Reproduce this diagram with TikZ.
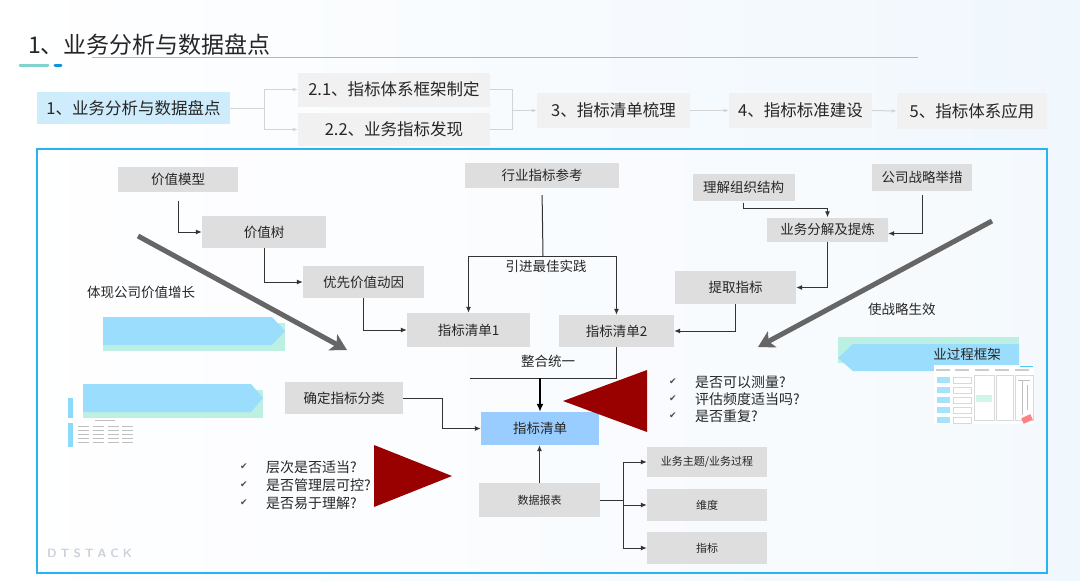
\documentclass[tikz,border=0pt]{standalone}
\usepackage{fontspec}
\setmainfont{Noto Sans CJK SC}
\newfontfamily\cjk{Noto Sans CJK SC}
\newfontfamily\dejavu{DejaVu Sans}
\usetikzlibrary{arrows.meta,calc}
\definecolor{gboxc}{RGB}{222,222,222}
\definecolor{topgray}{RGB}{241,241,241}
\definecolor{topblue}{RGB}{206,236,252}
\definecolor{listblue}{RGB}{153,204,255}
\definecolor{pentblue}{RGB}{155,221,252}
\definecolor{pentteal}{RGB}{188,240,226}
\definecolor{darkred}{RGB}{153,0,0}
\definecolor{framec}{RGB}{40,180,240}
\definecolor{titleline}{RGB}{120,200,245}
\definecolor{txt}{RGB}{38,38,38}
\definecolor{arrowgray}{RGB}{102,102,102}
\definecolor{lightconn}{RGB}{212,212,212}
\definecolor{bgtint}{RGB}{240,247,253}
\definecolor{wm}{RGB}{205,210,218}
\tikzset{
  gbox/.style={fill=gboxc, inner sep=0pt, font=\fontsize{13.5}{15}\selectfont, text=txt},
  sbox/.style={fill=gboxc, inner sep=0pt, font=\fontsize{11}{13}\selectfont, text=txt},
  topbox/.style={fill=topgray, inner sep=0pt, font=\fontsize{16.5}{18}\selectfont, text=txt},
  conn/.style={draw=black!80, line width=1pt, -{Latex[length=6pt,width=5pt]}},
  plainline/.style={draw=black!80, line width=1pt},
  bigarrow/.style={draw=arrowgray, line width=5pt, -{Stealth[length=16pt,width=18pt,inset=4pt]}},
  topconn/.style={draw=lightconn, line width=1pt, -{Latex[length=5pt,width=4pt]}},
  toplink/.style={draw=lightconn, line width=1pt},
  lbl/.style={inner sep=0pt, font=\fontsize{13.5}{15}\selectfont, text=txt},
  chk/.style={inner sep=0pt, font=\fontsize{14}{16}\selectfont, text=txt, anchor=west},
  tick/.style={inner sep=0pt, font=\dejavu\fontsize{9}{10}\selectfont, text=black!70},
}
\begin{document}
\begin{tikzpicture}[x=1pt,y=-1pt]
\useasboundingbox (0,0) rectangle (1080,581);
\fill[white] (0,0) rectangle (1080,581);
\shade[left color=white, right color=bgtint] (0,0) rectangle (1080,581);

% title
\node[inner sep=0pt, anchor=west, font=\fontsize{23}{25}\selectfont, text=txt] (title) at (28,45) {1、业务分析与数据盘点};
\draw[titleline, line width=1.2pt] (92,57.5) -- (918,57.5);
\draw[cyan!60!green!50, line width=3pt, line cap=round] (20,65) -- (48,65);
\draw[cyan!80!blue, line width=3pt, line cap=round] (55,65) -- (61,65);

% top row
\node[topbox, fill=topblue, minimum width=193pt, minimum height=32pt] (t1) at (133.5,108) {1、业务分析与数据盘点};
\node[topbox, minimum width=192pt, minimum height=34pt] (t21) at (394,89.5) {2.1、指标体系框架制定};
\node[topbox, minimum width=192pt, minimum height=33pt] (t22) at (394,129.5) {2.2、业务指标发现};
\node[topbox, minimum width=153pt, minimum height=35pt] (t3) at (613.5,110.5) {3、指标清单梳理};
\node[topbox, minimum width=143pt, minimum height=35pt] (t4) at (800.5,110.5) {4、指标标准建设};
\node[topbox, minimum width=150pt, minimum height=36pt] (t5) at (972,111) {5、指标体系应用};
\draw[topconn] (t1.east) -- ++(34,0) |- (t21.west);
\draw[topconn] (t1.east) -- ++(34,0) |- (t22.west);
\draw[toplink] (t21.east) -- ++(22,0) |- (t22.east);
\draw[topconn] ($(t21.east)+(22,21)$) -- (t3.west);
\draw[topconn] (t3.east) -- (t4.west);
\draw[topconn] (t4.east) -- (t5.west);

% frame
\fill[white, opacity=0.35] (37,149) rectangle (1047,573);
\draw[draw=framec, line width=1.2pt] (37,149) rectangle (1047,573);

% watermark
\node[inner sep=0pt, anchor=west, font=\sffamily\bfseries\fontsize{12}{13}\selectfont, text=wm] (wmk) at (47,553) {D\hspace{4pt}T\hspace{4pt}S\hspace{4pt}T\hspace{4pt}A\hspace{4pt}C\hspace{4pt}K};

% left thumbnail (behind the pentagon)
\fill[white] (68,398) rectangle (136,447);
\fill[cyan!45] (68,398) rectangle (73,418);
\fill[cyan!45] (68,423) rectangle (73,447);
\foreach \xx in {78,93,108,122} {\foreach \yy in {426,430,434,438,442} {\fill[black!25] (\xx,\yy) rectangle ++(11,1.2);}}
\fill[black!25] (95,420) rectangle ++(20,1.2);

% pentagons
\fill[pentteal] (103,323) rectangle (285,351);
\fill[pentblue] (103,317) -- (272,317) -- (285,331) -- (272,345) -- (103,345) -- cycle;
\fill[pentteal] (83,390) rectangle (263,418);
\fill[pentblue] (83,384) -- (251,384) -- (263,398) -- (251,412) -- (83,412) -- cycle;
\fill[pentteal] (838,337) rectangle (1019,363);
\fill[pentblue] (838,358) -- (853,344) -- (1019,344) -- (1019,371) -- (853,371) -- cycle;
\node[lbl, anchor=east] (ygc) at (1001,354) {业过程框架};

% right thumbnail
\fill[white] (934,365) rectangle (1034,424);
\draw[cyan!70, line width=1pt] (1020,366) -- (1033,366);
\foreach \xx in {936,955,975,995,1015} {\fill[black!20] (\xx,369) rectangle ++(14,2);}
\foreach \yy in {380,390,400,410,420} {\fill[cyan!35] (937,\yy-3) rectangle ++(13,6);}
\foreach \yy in {380,390,400,410,420} {\draw[black!15, line width=0.4pt] (953,\yy-3) rectangle ++(18,6);}
\draw[black!15, line width=0.4pt] (974,375) rectangle (994,420);
\fill[pentteal!70] (976,395) rectangle (992,402);
\draw[black!15, line width=0.4pt] (996,375) rectangle (1013,420);
\draw[black!15, line width=0.4pt] (1015,375) rectangle (1033,420);
\draw[black!25, line width=0.4pt] (1018,380) -- (1030,380) (1022,380) -- (1022,415) (1027,385) -- (1027,410);
\fill[red!50, rotate around={25:(1027,419)}] (1022,416) rectangle (1032,422);

% big arrows
\coordinate (ga1) at (138,236);
\coordinate (ga2) at (347,350);
\coordinate (gb1) at (992,221);
\coordinate (gb2) at (758,347);
\draw[bigarrow] (ga1) -- (ga2);
\draw[bigarrow] (gb1) -- (gb2);
\node[lbl, anchor=west] (txv) at (87,292) {体现公司价值增长};
\node[lbl, anchor=west] (txs) at (868,309) {使战略生效};

% left chain
\node[gbox, minimum width=120pt, minimum height=25pt] (vm) at (178,179) {价值模型};
\node[gbox, minimum width=124pt, minimum height=32pt] (vt) at (264,232) {价值树};
\node[gbox, minimum width=121pt, minimum height=32pt] (yx) at (363.5,282) {优先价值动因};
\node[gbox, minimum width=123pt, minimum height=34pt] (qd1) at (468.5,330) {指标清单1};
\draw[conn, shorten <=9pt] (vm.south) |- (vt.west);
\draw[conn] (vt.south) |- (yx.west);
\draw[conn] (yx.south) |- (qd1.west);

% middle
\node[gbox, minimum width=154pt, minimum height=25pt] (hy) at (542,175.5) {行业指标参考};
\node[gbox, minimum width=115pt, minimum height=32pt] (qd2) at (616.5,331) {指标清单2};
\coordinate (split) at (543,256);
\draw[plainline, shorten <=7pt] (hy.south) -- (split);
\draw[conn] (split) -| (qd1.north);
\draw[conn] (split) -| (qd2.north);
\node[lbl] (yj) at (546,266) {引进最佳实践};

% right chain
\node[gbox, minimum width=102pt, minimum height=27pt] (lj) at (743.5,187) {理解组织结构};
\node[gbox, minimum width=100pt, minimum height=27pt] (gs) at (922,177.5) {公司战略举措};
\node[gbox, minimum width=121pt, minimum height=24pt] (yw) at (827.5,229.5) {业务分解及提炼};
\node[gbox, minimum width=121pt, minimum height=33pt] (tq) at (735.5,287.5) {提取指标};
\draw[conn, shorten <=2pt] (lj.south) -- ++(0,8) -| (yw.north);
\draw[conn, shorten <=4pt] (gs.south) |- ([yshift=-4pt]yw.east);
\draw[conn] (yw.south) |- (tq.east);
\draw[conn] (tq.south) |- (qd2.east);

% merge
\node[gbox, fill=listblue, minimum width=118pt, minimum height=33pt] (qdm) at (540,428.5) {指标清单};
\coordinate (m1) at (470,378);
\coordinate (mj) at (540,378);
\draw[plainline] (qd2.south) |- (m1);
\draw[draw=black, line width=2pt, -{Latex[length=8pt,width=7pt]}] (mj) -- (qdm.north);
\node[lbl] (zh) at (548,361) {整合统一};

% 确定指标分类
\node[gbox, minimum width=118pt, minimum height=32pt] (qdfl) at (344,398) {确定指标分类};
\draw[conn] (qdfl.east) -- ++(39,0) |- (qdm.west);

% 数据报表
\node[sbox, minimum width=121pt, minimum height=34pt] (sj) at (539.5,500) {数据报表};
\node[sbox, minimum width=120pt, minimum height=30pt] (b1) at (707,462) {业务主题/业务过程};
\node[sbox, minimum width=120pt, minimum height=32pt] (b2) at (707,505) {维度};
\node[sbox, minimum width=120pt, minimum height=32pt] (b3) at (707,548) {指标};
\draw[conn] (sj.north) -- (sj.north |- qdm.south);
\draw[conn] (sj.east) -- ++(23,0) |- (b1.west);
\draw[conn] (sj.east) -- ++(23,0) |- (b2.west);
\draw[conn] (sj.east) -- ++(23,0) |- (b3.west);

% red triangles
\fill[darkred] (563,401) -- (647,370) -- (647,432) -- cycle;
\fill[darkred] (374,445) -- (452,476) -- (374,507) -- cycle;

% checklists
\node[tick] (c1) at (673,382) {✔};
\node[tick] (c2) at (673,399) {✔};
\node[tick] (c3) at (673,416) {✔};
\node[chk] (q1) at (695,382) {是否可以测量?};
\node[chk] (q2) at (695,399) {评估频度适当吗?};
\node[chk] (q3) at (695,416) {是否重复?};
\node[tick] (c4) at (244,467) {✔};
\node[tick] (c5) at (244,485) {✔};
\node[tick] (c6) at (244,503) {✔};
\node[chk] (q4) at (266,467) {层次是否适当?};
\node[chk] (q5) at (266,485) {是否管理层可控?};
\node[chk] (q6) at (266,503) {是否易于理解?};
\end{tikzpicture}
\end{document}
